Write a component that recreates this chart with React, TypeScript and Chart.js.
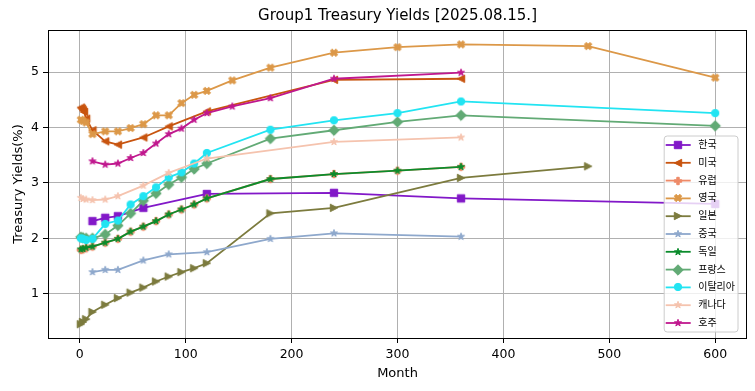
import React, { useEffect, useRef } from 'react';
import { Chart, registerables } from 'chart.js';
Chart.register(...registerables);

const titleText = 'Group1 Treasury Yields [2025.08.15.]';
const xTitle = 'Month';
const yTitle = 'Treasury Yields(%)';
const xTickValues = [0, 100, 200, 300, 400, 500, 600];
const yTickValues = [1, 2, 3, 4, 5];

const koreaMonths = [12, 24, 36, 60, 120, 240, 360, 600];
const koreaYields = [2.31, 2.37, 2.40, 2.55, 2.80, 2.82, 2.72, 2.62];
const usMonths = [1, 2, 3, 4, 6, 12, 24, 36, 60, 84, 120, 240, 360];
const usYields = [4.36, 4.34, 4.31, 4.28, 4.16, 3.95, 3.75, 3.69, 3.82, 4.02, 4.29, 4.86, 4.88];
const europeMonths = [1, 3, 6, 12, 24, 36, 48, 60, 72, 84, 96, 108, 120, 180, 240, 300, 360];
const europeYields = [1.79, 1.80, 1.82, 1.85, 1.92, 1.99, 2.12, 2.21, 2.31, 2.43, 2.52, 2.61, 2.72, 3.07, 3.16, 3.22, 3.29];
const ukMonths = [1, 3, 6, 12, 24, 36, 48, 60, 72, 84, 96, 108, 120, 144, 180, 240, 300, 360, 480, 600];
const ukYields = [4.14, 4.12, 4.09, 3.88, 3.93, 3.93, 3.99, 4.06, 4.22, 4.22, 4.44, 4.59, 4.66, 4.85, 5.08, 5.35, 5.45, 5.50, 5.47, 4.90];
const japanMonths = [1, 3, 6, 12, 24, 36, 48, 60, 72, 84, 96, 108, 120, 180, 240, 360, 480];
const japanYields = [0.45, 0.49, 0.54, 0.67, 0.80, 0.92, 1.02, 1.11, 1.22, 1.31, 1.39, 1.46, 1.55, 2.45, 2.55, 3.09, 3.30];
const chinaMonths = [12, 24, 36, 60, 84, 120, 180, 240, 360];
const chinaYields = [1.39, 1.43, 1.43, 1.60, 1.71, 1.75, 1.99, 2.09, 2.03];
const germanyMonths = [1, 3, 6, 12, 24, 36, 48, 60, 72, 84, 96, 108, 120, 180, 240, 300, 360];
const germanyYields = [1.80, 1.81, 1.83, 1.85, 1.92, 1.99, 2.12, 2.21, 2.31, 2.43, 2.52, 2.61, 2.72, 3.07, 3.16, 3.22, 3.29];
const franceMonths = [1, 3, 6, 12, 24, 36, 48, 60, 72, 84, 96, 108, 120, 180, 240, 300, 360, 600];
const franceYields = [2.02, 2.01, 2.00, 2.00, 2.07, 2.23, 2.45, 2.68, 2.81, 2.97, 3.10, 3.25, 3.35, 3.80, 3.95, 4.10, 4.22, 4.03];
const italyMonths = [1, 3, 6, 12, 24, 36, 48, 60, 72, 84, 96, 108, 120, 180, 240, 300, 360, 600];
const italyYields = [2.00, 1.99, 1.97, 1.99, 2.26, 2.32, 2.61, 2.76, 2.92, 3.10, 3.19, 3.35, 3.54, 3.96, 4.13, 4.26, 4.47, 4.26];
const canadaMonths = [1, 3, 6, 12, 24, 36, 60, 84, 120, 240, 360];
const canadaYields = [2.73, 2.71, 2.70, 2.69, 2.70, 2.76, 2.95, 3.18, 3.44, 3.74, 3.82];
const australiaMonths = [12, 24, 36, 48, 60, 72, 84, 96, 108, 120, 144, 180, 240, 360];
const australiaYields = [3.39, 3.33, 3.35, 3.45, 3.54, 3.71, 3.88, 3.98, 4.14, 4.26, 4.38, 4.53, 4.88, 4.99];

const seriesNames = ['한국', '미국', '유럽', '영국', '일본', '중국', '독일', '프랑스', '이탈리아', '캐나다', '호주'];
const seriesMonths = [koreaMonths, usMonths, europeMonths, ukMonths, japanMonths, chinaMonths, germanyMonths, franceMonths, italyMonths, canadaMonths, australiaMonths];
const seriesYields = [koreaYields, usYields, europeYields, ukYields, japanYields, chinaYields, germanyYields, franceYields, italyYields, canadaYields, australiaYields];
const seriesColors = ['#8218c8', '#c8540f', '#ee8a68', '#dc9848', '#7c7b3e', '#8ea8cc', '#0b8c2c', '#62aa75', '#22e4f2', '#f5c3ae', '#c0188e'];
const seriesMarkers = ['square', 'triLeft', 'plus', 'xfill', 'triRight', 'star', 'star', 'diamond', 'circle', 'star', 'star'];

const FONT = '"DejaVu Sans", "Noto Sans CJK KR", sans-serif';

function makeMarker(kind: string, color: string, ms: number): HTMLCanvasElement {
  const size = Math.ceil(ms * 1.6) + 4;
  const c = document.createElement('canvas');
  c.width = size;
  c.height = size;
  const ctx = c.getContext('2d') as CanvasRenderingContext2D;
  ctx.translate(size / 2, size / 2);
  ctx.fillStyle = color;
  ctx.strokeStyle = color;
  ctx.lineWidth = 1;
  ctx.lineJoin = 'miter';
  const h = ms / 2;
  const poly = (pts: number[][], s: number) => {
    pts.forEach(([x, y], i) => (i ? ctx.lineTo(x * s, -y * s) : ctx.moveTo(x * s, -y * s)));
    ctx.closePath();
  };
  ctx.beginPath();
  if (kind === 'circle') ctx.arc(0, 0, h, 0, Math.PI * 2);
  else if (kind === 'square') ctx.rect(-h, -h, ms, ms);
  else if (kind === 'diamond') poly([[0, 1], [1, 0], [0, -1], [-1, 0]], h * Math.SQRT2);
  else if (kind === 'triLeft') poly([[-1, 0], [1, 1], [1, -1]], h);
  else if (kind === 'triRight') poly([[1, 0], [-1, 1], [-1, -1]], h);
  else if (kind === 'plus')
    poly([[-1, -3], [-1, -1], [-3, -1], [-3, 1], [-1, 1], [-1, 3], [1, 3], [1, 1], [3, 1], [3, -1], [1, -1], [1, -3]], ms / 6);
  else if (kind === 'xfill')
    poly([[-1, -2], [0, -1], [1, -2], [2, -1], [1, 0], [2, 1], [1, 2], [0, 1], [-1, 2], [-2, 1], [-1, 0], [-2, -1]], ms / 4);
  else if (kind === 'star') {
    const pts: number[][] = [];
    for (let i = 0; i < 10; i++) {
      const r = i % 2 === 0 ? 1 : 0.381966;
      const a = Math.PI / 2 + (i * Math.PI) / 5;
      pts.push([r * Math.cos(a), r * Math.sin(a)]);
    }
    poly(pts, h);
  }
  ctx.fill();
  ctx.stroke();
  return c;
}

export default function App() {
  const ref = useRef<HTMLCanvasElement | null>(null);
  useEffect(() => {
    if (!ref.current) return;
    const markers = seriesNames.map((_, i) => makeMarker(seriesMarkers[i], seriesColors[i], 7.4));
    const n = seriesNames.length;
    const datasets = seriesNames.map((name, i) => ({
      label: name,
      data: seriesMonths[i].map((m, j) => ({ x: m, y: seriesYields[i][j] })),
      borderColor: seriesColors[i],
      backgroundColor: seriesColors[i],
      borderWidth: 1.8,
      pointStyle: markers[i] as any,
      pointRadius: 4,
      tension: 0,
      order: n - i,
    }));

    const decor = {
      id: 'decor',
      afterDraw(chart: any) {
        const { ctx, chartArea: a } = chart;
        ctx.save();
        ctx.strokeStyle = '#000';
        ctx.lineWidth = 1;
        ctx.strokeRect(Math.round(a.left) + 0.5, Math.round(a.top) + 0.5, Math.round(a.right - a.left) - 1, Math.round(a.bottom - a.top));
        ctx.fillStyle = '#000';
        ctx.textAlign = 'center';
        ctx.textBaseline = 'middle';
        ctx.font = `15px ${FONT}`;
        ctx.fillText(titleText, (a.left + a.right) / 2, 16);
        ctx.font = `13px ${FONT}`;
        ctx.fillText(xTitle, (a.left + a.right) / 2, 374);
        ctx.save();
        ctx.translate(19, (a.top + a.bottom) / 2);
        ctx.rotate(-Math.PI / 2);
        ctx.fillText(yTitle, 0, 0);
        ctx.restore();
        ctx.font = `10px ${FONT}`;
        let maxW = 0;
        seriesNames.forEach((s) => (maxW = Math.max(maxW, ctx.measureText(s).width)));
        const rowH = 17.8;
        const w = 2 + 25 + 7 + maxW + 3;
        const hgt = 196;
        const right = a.right - 9;
        const bottom = a.bottom - 6;
        const left = right - w;
        const top = bottom - hgt;
        ctx.beginPath();
        const r = 3;
        ctx.moveTo(left + r, top);
        ctx.arcTo(right, top, right, bottom, r);
        ctx.arcTo(right, bottom, left, bottom, r);
        ctx.arcTo(left, bottom, left, top, r);
        ctx.arcTo(left, top, right, top, r);
        ctx.closePath();
        ctx.fillStyle = 'rgba(255,255,255,0.8)';
        ctx.fill();
        ctx.strokeStyle = '#cccccc';
        ctx.lineWidth = 1;
        ctx.stroke();
        seriesNames.forEach((s, i) => {
          const cy = top + 9 + i * rowH;
          ctx.strokeStyle = seriesColors[i];
          ctx.lineWidth = 1.8;
          ctx.beginPath();
          ctx.moveTo(left + 1.5, cy);
          ctx.lineTo(left + 26.5, cy);
          ctx.stroke();
          const mk = markers[i];
          ctx.drawImage(mk, Math.round(left + 14 - mk.width / 2), Math.round(cy - mk.height / 2));
          ctx.fillStyle = '#000';
          ctx.textAlign = 'left';
          ctx.textBaseline = 'middle';
          ctx.fillText(s, left + 34, cy + 0.5);
        });
        ctx.restore();
      },
    };

    const chart = new Chart(ref.current, {
      type: 'line',
      data: { datasets: datasets as any },
      options: {
        animation: false,
        responsive: false,
        devicePixelRatio: 1,
        events: [],
        layout: { padding: { top: 30, right: 8, left: 0, bottom: 0 } },
        plugins: { legend: { display: false }, title: { display: false }, tooltip: { enabled: false } },
        scales: {
          x: {
            type: 'linear',
            min: -30,
            max: 630,
            bounds: 'data',
            afterFit: (s: any) => { s.height = 53; },
            afterBuildTicks: (s: any) => { s.ticks = xTickValues.map((v) => ({ value: v })); },
            grid: { color: '#b0b0b0', lineWidth: 1, tickColor: '#000', tickLength: 5, drawTicks: true },
            border: { display: false },
            ticks: { color: '#000', font: { family: FONT, size: 12.5 }, padding: 4, maxRotation: 0 },
          },
          y: {
            type: 'linear',
            min: 0.2,
            max: 5.76,
            bounds: 'data',
            afterFit: (s: any) => { s.width = 48; },
            afterBuildTicks: (s: any) => { s.ticks = yTickValues.map((v) => ({ value: v })); },
            grid: { color: '#b0b0b0', lineWidth: 1, tickColor: '#000', tickLength: 5, drawTicks: true },
            border: { display: false },
            ticks: { color: '#000', font: { family: FONT, size: 12.5 }, padding: 4 },
          },
        },
      },
      plugins: [decor],
    });
    return () => chart.destroy();
  }, []);
  return (
    <div style={{ position: 'fixed', left: 0, top: 0, width: 755, height: 391, background: '#fff' }}>
      <canvas ref={ref} width={755} height={391} style={{ display: 'block' }} />
    </div>
  );
}
